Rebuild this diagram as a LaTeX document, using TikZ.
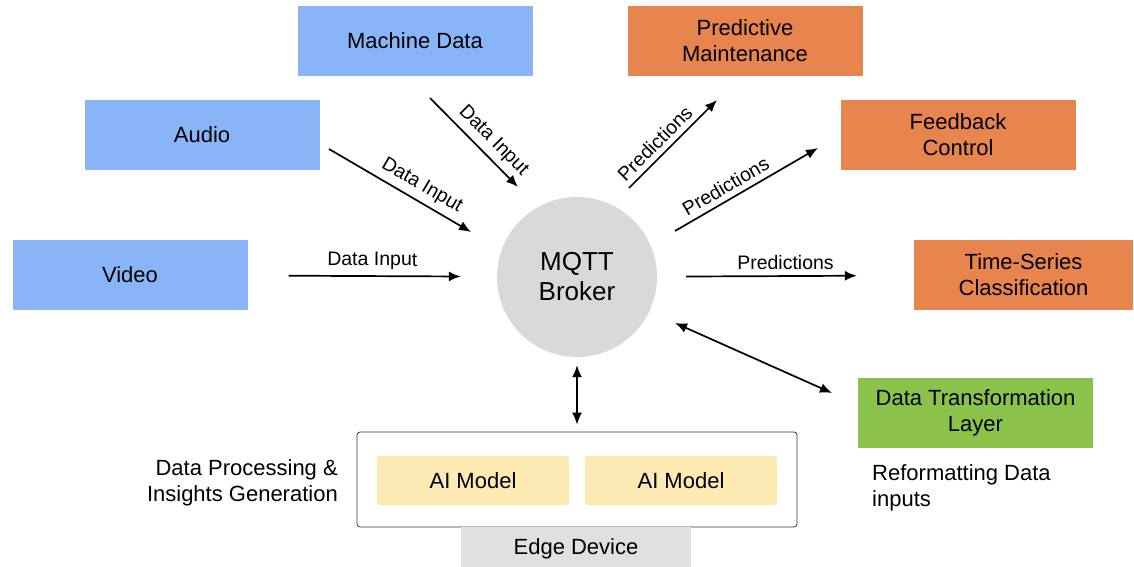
\documentclass[tikz,border=0pt]{standalone}
\usepackage{fontspec}
\setmainfont{Liberation Sans}
\usetikzlibrary{arrows.meta}

\definecolor{inblue}{HTML}{8AB4F8}
\definecolor{outorange}{HTML}{E8844E}
\definecolor{layergreen}{HTML}{8BC34A}
\definecolor{modelyellow}{HTML}{FDE9B4}
\definecolor{brokergray}{HTML}{D9D9D9}
\definecolor{devicegray}{HTML}{E0E0E0}

\begin{document}
\begin{tikzpicture}[x=1pt,y=-1pt]
    \tikzstyle{box}=[minimum width=235pt,minimum height=70pt,align=center,inner sep=0pt,font=\fontsize{22}{26}\selectfont]
    \tikzstyle{source}=[box,fill=inblue]
    \tikzstyle{sink}=[box,fill=outorange]
    \tikzstyle{model}=[fill=modelyellow,rounded corners=2pt,minimum width=192pt,minimum height=49pt,font=\fontsize{22}{26}\selectfont]
    \tikzstyle{flow}=[line width=1.7pt,-{Latex[length=12pt,width=10pt]}]
    \tikzstyle{both}=[line width=1.7pt,{Latex[length=12pt,width=10pt]}-{Latex[length=12pt,width=10pt]}]
    \tikzstyle{tag}=[font=\fontsize{19.5}{22}\selectfont,sloped,above=2pt]
    \tikzstyle{note}=[font=\fontsize{22}{26}\selectfont,inner sep=0pt]

    \useasboundingbox (0,0) rectangle (1134,567);

    % sources
    \node[source] at (415,41) (md) {Machine Data};
    \node[source] at (202,135) (audio) {Audio};
    \node[source] at (130,275) (video) {Video};

    % broker
    \node[circle,fill=brokergray,minimum size=160pt,align=center,font=\fontsize{26}{30}\selectfont] at (577,277) (broker) {MQTT\\Broker};

    % outputs
    \node[sink] at (745,41) (pm) {Predictive\\Maintenance};
    \node[sink] at (958,135) (fc) {Feedback\\Control};
    \node[sink,minimum width=219pt] at (1023.5,275) (ts) {Time-Series\\Classification};
    \node[box,fill=layergreen] at (975.5,412.5) (dtl) {Data Transformation\\Layer};
    \node[note,anchor=north west,align=left] at (872,464) (reformat) {Reformatting Data\\inputs};

    % edge device
    \node[draw=black!80,line width=0.8pt,rounded corners=3pt,minimum width=440pt,minimum height=95pt] at (577,479.5) (edge) {};
    \node[model] at (473,480.5) (ai1) {AI Model};
    \node[model] at (681,480.5) (ai2) {AI Model};
    \node[fill=devicegray,minimum width=230pt,minimum height=44pt,font=\fontsize{22}{26}\selectfont] at (576,549) (dev) {Edge Device};
    \node[note,anchor=north east,align=right] at (338,459) (insight) {Data Processing \&\\Insights Generation};

    % free arrow ends
    \coordinate (md-a) at (430,98);
    \coordinate (md-b) at (518,187);
    \coordinate (au-a) at (329,149);
    \coordinate (au-b) at (471,232);
    \coordinate (pm-a) at (629,188);
    \coordinate (pm-b) at (717,100);
    \coordinate (fc-a) at (675,231);
    \coordinate (fc-b) at (818,148);
    \coordinate (dtl-a) at (675,323);
    \coordinate (dtl-b) at (832,393);

    \draw[flow] (md-a) -- (md-b) node [tag,pos=0.6] {Data Input};
    \draw[flow] (au-a) -- (au-b) node [tag,pos=0.6] {Data Input};
    \draw[flow,shorten <=41pt,shorten >=36pt] (video) -- (broker) node [tag,midway] {Data Input};

    \draw[flow] (pm-a) -- (pm-b) node [tag,pos=0.4] {Predictions};
    \draw[flow] (fc-a) -- (fc-b) node [tag,pos=0.4] {Predictions};
    \draw[flow,shorten <=29pt,shorten >=57pt] (broker) -- (ts) node [tag,midway] {Predictions};

    \draw[both] (dtl-a) -- (dtl-b);
    \draw[both,shorten <=8pt,shorten >=7pt] (broker.south) -- (edge.north);
\end{tikzpicture}
\end{document}
